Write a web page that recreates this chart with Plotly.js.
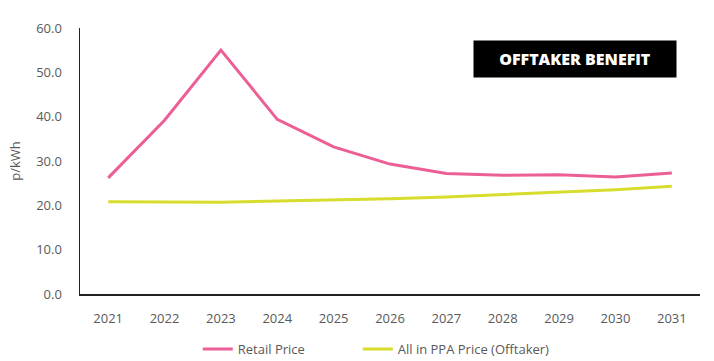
<!DOCTYPE html>
<html>
<head>
<meta charset="utf-8">
<script src="https://cdn.plot.ly/plotly-3.0.1.min.js"></script>
<style>html,body{margin:0;padding:0;background:#fff;}</style>
</head>
<body>
<div id="chart" style="width:714px;height:361px;"></div>
<script>
const years = ["2021","2022","2023","2024","2025","2026","2027","2028","2029","2030","2031"];
const retailPrice = [26.2, 39.2, 55.0, 39.4, 33.2, 29.3, 27.2, 26.8, 26.9, 26.4, 27.3];
const ppaPrice = [20.8, 20.7, 20.7, 21.0, 21.2, 21.5, 21.9, 22.4, 22.9, 23.5, 24.3];
const yTicks = [0, 10, 20, 30, 40, 50, 60];
const yTickLabels = ["0.0", "10.0", "20.0", "30.0", "40.0", "50.0", "60.0"];

const font = "'Open Sans', 'Noto Sans', sans-serif";
const traces = [
  {x: years, y: retailPrice, type: 'scatter', mode: 'lines', name: 'Retail Price',
   line: {color: '#EC5E96', width: 3}, legend: 'legend'},
  {x: years, y: ppaPrice, type: 'scatter', mode: 'lines', name: 'All in PPA Price (Offtaker)',
   line: {color: '#D8DC2C', width: 3}, legend: 'legend2'}
];
const legendBase = {orientation: 'h', xanchor: 'left', y: -0.207, yanchor: 'middle',
  font: {family: font, size: 13, color: '#595959'}, bgcolor: 'rgba(0,0,0,0)'};
const layout = {
  width: 714, height: 361,
  margin: {l: 80, r: 14, t: 28, b: 67, autoexpand: false},
  paper_bgcolor: '#fff', plot_bgcolor: '#fff',
  font: {family: font, size: 13, color: '#595959'},
  showlegend: true,
  legend: Object.assign({}, legendBase, {x: 0.19}),
  legend2: Object.assign({}, legendBase, {x: 0.448}),
  xaxis: {type: 'category', range: [-0.5, 10.5], showgrid: false, zeroline: false,
          showline: true, linecolor: '#222', linewidth: 1.5, ticks: '', ticklabelstandoff: 12,
          tickfont: {family: font, size: 13, color: '#595959'}, fixedrange: true},
  yaxis: {range: [0, 60], tickvals: yTicks, ticktext: yTickLabels, showgrid: false, zeroline: false,
          showline: true, linecolor: '#222', linewidth: 1.5, ticks: '', ticklabelstandoff: 14,
          tickfont: {family: font, size: 13, color: '#595959'},
          title: {text: 'p/kWh', font: {family: font, size: 13, color: '#595959'}, standoff: 12},
          automargin: false, fixedrange: true},
  annotations: [{
    xref: 'paper', yref: 'paper', x: 0.798, y: 0.883, xanchor: 'center', yanchor: 'middle',
    text: 'OFFTAKER BENEFIT', showarrow: false, bgcolor: '#000', width: 200, height: 34,
    font: {family: font, size: 16, color: '#fff', weight: 900}
  }]
};
Plotly.newPlot('chart', traces, layout, {displayModeBar: false, staticPlot: true});
</script>
</body>
</html>
